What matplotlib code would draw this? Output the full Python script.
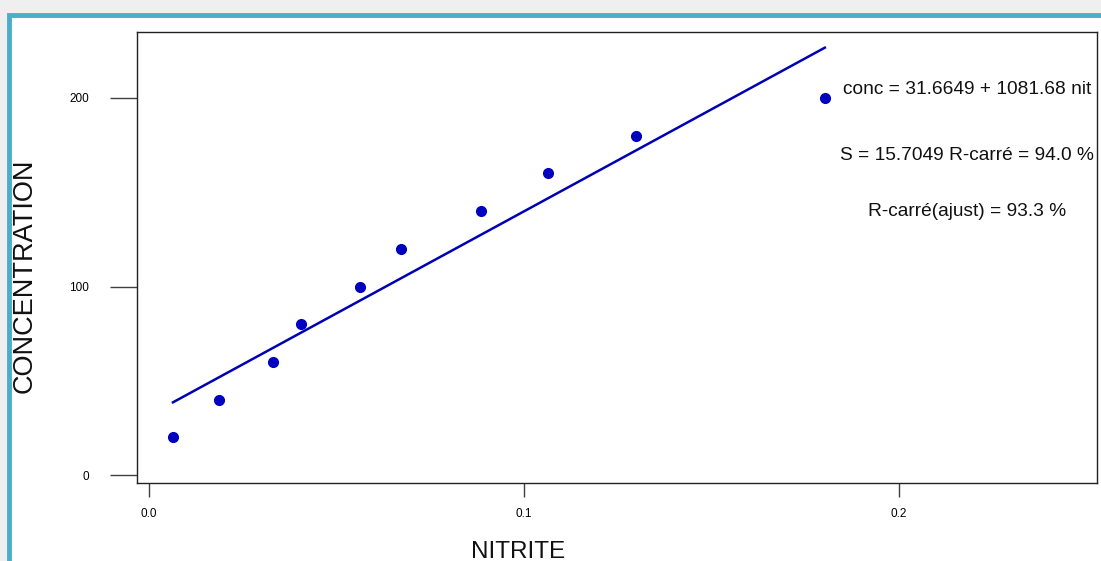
import matplotlib
matplotlib.use("Agg")
import matplotlib.pyplot as plt
from matplotlib.patches import Rectangle
import numpy as np

plt.rcParams['font.family'] = ['Liberation Sans', 'DejaVu Sans']

# data
nitrite = [0.0064, 0.0187, 0.0331, 0.0405, 0.0563, 0.0672, 0.0885, 0.1064, 0.1299, 0.1803]
conc = [20, 40, 60, 80, 100, 120, 140, 160, 180, 200]
intercept = 31.6649
slope = 1081.68
eq_lines = ["conc = 31.6649 + 1081.68 nit",
            "S = 15.7049 R-carré = 94.0 %",
            "R-carré(ajust) = 93.3 %"]
xticks = [0.0, 0.1, 0.2]
xticklabels = ["0.0", "0.1", "0.2"]
yticks = [0, 100, 200]

W, H = 1101, 561
fig = plt.figure(figsize=(W / 100, H / 100), dpi=100)
fig.patch.set_facecolor('#efefef')

# teal frame of the window, behind the axes
frame = Rectangle((9 / W, -0.05), 1.1, 1 - 14.5 / H + 0.05, transform=fig.transFigure,
                  facecolor='white', edgecolor='#4aaec8', linewidth=3.5, zorder=-1)
fig.patches.append(frame)

ax = fig.add_axes([137 / W, 1 - 483 / H, (1097 - 137) / W, (483 - 32) / H])
ax.set_facecolor('white')

xfit = np.array([min(nitrite), max(nitrite)])
ax.plot(xfit, intercept + slope * xfit, color='#0000b4', lw=1.8, zorder=2)
ax.plot(nitrite, conc, 'o', color='#0000c0', ms=7, zorder=3)

ax.set_xlim(-0.0032, 0.2529)
ax.set_ylim(-4.2, 235)

ax.set_xticks(xticks)
ax.set_xticklabels(xticklabels)
ax.set_yticks(yticks)
ax.tick_params(axis='y', direction='out', length=19.5, width=1, color='#404040',
               labelsize=8.5, pad=15)
ax.tick_params(axis='x', direction='out', length=10, width=1, color='#404040',
               labelsize=8.5, pad=8)
for s in ax.spines.values():
    s.set_color('#222222')
    s.set_linewidth(1)

ys = [89.5, 155, 212]
for t, y in zip(eq_lines, ys):
    fig.text(967 / W, 1 - y / H, t, ha='center', va='center', fontsize=13.8, color='#111111')

fig.text(25 / W, 1 - 276 / H, "CONCENTRATION", rotation=90, ha='center', va='center',
         fontsize=19.5, color='#111111')
fig.text(518 / W, 1 - 558 / H, "NITRITE", ha='center', va='baseline',
         fontsize=17.5, color='#111111')

fig.savefig("out.png", dpi=100, facecolor=fig.get_facecolor())
